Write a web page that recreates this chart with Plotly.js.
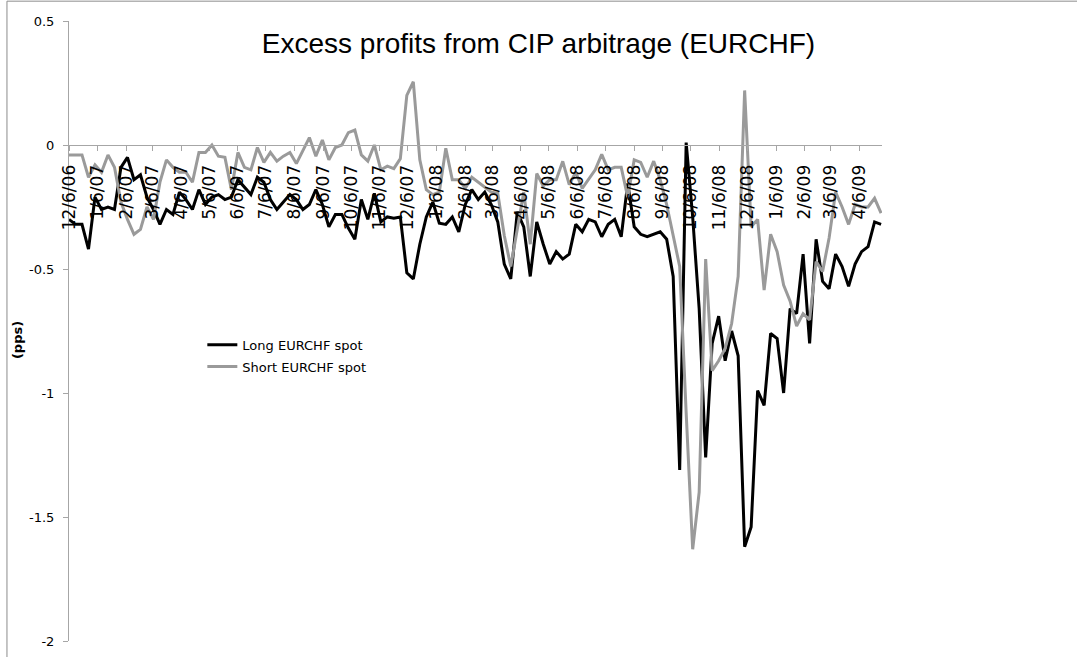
<!DOCTYPE html>
<html>
<head>
<meta charset="utf-8">
<script src="https://cdn.plot.ly/plotly-3.0.1.min.js"></script>
<style>html,body{margin:0;padding:0;background:#fff;}#chart{width:1077px;height:657px;}</style>
</head>
<body>
<div id="chart"></div>
<script>
// Weekly observations starting 6 Dec 2006
var startDate = '2006-12-06';
var nWeeks = 126;

var longSpot = [
 -0.30,-0.32,-0.32,-0.42,-0.21,-0.26,-0.25,-0.26,-0.09,-0.05,
 -0.14,-0.12,-0.21,-0.26,-0.32,-0.26,-0.28,-0.19,-0.22,-0.26,
 -0.18,-0.24,-0.21,-0.20,-0.22,-0.21,-0.14,-0.17,-0.20,-0.13,
 -0.15,-0.22,-0.26,-0.23,-0.20,-0.22,-0.26,-0.24,-0.18,-0.24,
 -0.33,-0.28,-0.28,-0.335,-0.38,-0.22,-0.30,-0.195,-0.31,-0.29,
 -0.295,-0.29,-0.515,-0.54,-0.40,-0.29,-0.23,-0.315,-0.32,-0.29,
 -0.35,-0.24,-0.18,-0.22,-0.19,-0.24,-0.31,-0.48,-0.54,-0.27,
 -0.33,-0.53,-0.31,-0.40,-0.48,-0.43,-0.46,-0.44,-0.32,-0.35,
 -0.30,-0.31,-0.37,-0.32,-0.30,-0.37,-0.155,-0.33,-0.36,-0.37,
 -0.36,-0.35,-0.38,-0.53,-1.31,0.01,-0.29,-0.66,-1.26,-0.80,
 -0.69,-0.87,-0.75,-0.85,-1.62,-1.54,-0.99,-1.05,-0.76,-0.78,
 -1.00,-0.66,-0.68,-0.44,-0.80,-0.38,-0.55,-0.58,-0.44,-0.49,
 -0.57,-0.48,-0.43,-0.41,-0.31,-0.32
];

var shortSpot = [
 -0.04,-0.04,-0.04,-0.13,-0.08,-0.11,-0.04,-0.09,-0.23,-0.30,
 -0.36,-0.34,-0.25,-0.30,-0.15,-0.06,-0.09,-0.11,-0.11,-0.15,
 -0.03,-0.03,0.00,-0.045,-0.05,-0.18,-0.03,-0.09,-0.10,-0.01,
 -0.07,-0.03,-0.065,-0.045,-0.03,-0.075,-0.02,0.03,-0.045,0.02,
 -0.06,-0.01,0.00,0.05,0.06,-0.04,-0.065,0.00,-0.10,-0.085,
 -0.095,-0.055,0.20,0.255,-0.06,-0.18,-0.20,-0.19,-0.013,-0.14,
 -0.14,-0.175,-0.13,-0.15,-0.17,-0.19,-0.195,-0.365,-0.49,-0.34,
 -0.19,-0.40,-0.115,-0.165,-0.14,-0.14,-0.066,-0.16,-0.11,-0.175,
 -0.135,-0.10,-0.038,-0.10,-0.09,-0.09,-0.21,-0.06,-0.07,-0.13,
 -0.065,-0.14,-0.24,-0.37,-0.49,-1.08,-1.63,-1.40,-0.46,-0.91,
 -0.87,-0.82,-0.72,-0.53,0.22,-0.33,-0.30,-0.585,-0.36,-0.43,
 -0.565,-0.63,-0.73,-0.68,-0.705,-0.47,-0.51,-0.375,-0.19,-0.25,
 -0.32,-0.24,-0.25,-0.25,-0.215,-0.275
];

var xTickVals = ['2006-12-06','2007-01-06','2007-02-06','2007-03-06','2007-04-06','2007-05-06','2007-06-06','2007-07-06','2007-08-06','2007-09-06','2007-10-06','2007-11-06','2007-12-06','2008-01-06','2008-02-06','2008-03-06','2008-04-06','2008-05-06','2008-06-06','2008-07-06','2008-08-06','2008-09-06','2008-10-06','2008-11-06','2008-12-06','2009-01-06','2009-02-06','2009-03-06','2009-04-06'];
var xTickText = ['12/6/06','1/6/07','2/6/07','3/6/07','4/6/07','5/6/07','6/6/07','7/6/07','8/6/07','9/6/07','10/6/07','11/6/07','12/6/07','1/6/08','2/6/08','3/6/08','4/6/08','5/6/08','6/6/08','7/6/08','8/6/08','9/6/08','10/6/08','11/6/08','12/6/08','1/6/09','2/6/09','3/6/09','4/6/09'];
var yTickVals = [0.5,0,-0.5,-1,-1.5,-2];
var yTickText = ['0.5','0','-0.5','-1','-1.5','-2'];

// build weekly date categories
var dates = [];
var d0 = new Date(startDate + 'T00:00:00Z');
for (var i = 0; i < nWeeks; i++) {
  var d = new Date(d0.getTime() + i * 7 * 86400000);
  dates.push(d.toISOString().slice(0, 10));
}

var traces = [
  {x: dates, y: longSpot, type: 'scatter', mode: 'lines', name: 'Long EURCHF spot',
   line: {color: '#000000', width: 3}, legendgroup: 'a'},
  {x: dates, y: shortSpot, type: 'scatter', mode: 'lines', name: 'Short EURCHF spot',
   line: {color: '#9a9a9a', width: 3}, legendgroup: 'b'}
];

var layout = {
  width: 1077, height: 657,
  paper_bgcolor: '#ffffff', plot_bgcolor: '#ffffff',
  margin: {l: 69, r: 195, t: 21, b: 16, pad: 0},
  font: {family: 'DejaVu Sans, sans-serif', color: '#000000', size: 13},
  title: {text: 'Excess profits from CIP arbitrage (EURCHF)',
          font: {family: 'Liberation Sans, Arial, sans-serif', size: 28, color: '#000000'},
          x: 0.5, xref: 'container', xanchor: 'center', y: 0.934, yref: 'container', yanchor: 'middle'},
  xaxis: {
    type: 'date', range: ['2006-12-06', '2009-04-30'],
    anchor: 'free', position: 0.8,
    showline: true, linecolor: '#a6a6a6', linewidth: 1,
    showgrid: false, zeroline: false,
    ticks: 'outside', ticklen: 5, tickcolor: '#a6a6a6', tickwidth: 1,
    tickmode: 'array', tickvals: xTickVals, ticktext: xTickText,
    tickangle: -90, tickfont: {size: 17, color: '#000000'}, ticklabelstandoff: 7
  },
  yaxis: {
    range: [-2, 0.5], showline: true, linecolor: '#a6a6a6', linewidth: 1,
    showgrid: false, zeroline: false,
    ticks: 'outside', ticklen: 5, tickcolor: '#a6a6a6', tickwidth: 1,
    tickmode: 'array', tickvals: yTickVals, ticktext: yTickText,
    tickfont: {size: 13, color: '#000000'}, ticklabelstandoff: 6
  },
  annotations: [
    {text: '<b>(pps)</b>', xref: 'paper', yref: 'paper', x: -0.063, y: 0.485,
     xanchor: 'center', yanchor: 'middle', textangle: -90, showarrow: false,
     font: {size: 13, color: '#000000'}}
  ],
  legend: {x: 0.164, y: 0.502, xanchor: 'left', yanchor: 'top', bgcolor: 'rgba(0,0,0,0)',
           font: {size: 13, color: '#000000'}, traceorder: 'grouped', tracegroupgap: 2},
  showlegend: true,
  shapes: [
    {type: 'rect', xref: 'paper', yref: 'paper', x0: -0.0763, x1: 1.6, y0: -0.2, y1: 1.032,
     line: {color: '#8c8c8c', width: 1}, fillcolor: 'rgba(0,0,0,0)', layer: 'below'}
  ]
};

Plotly.newPlot('chart', traces, layout, {displayModeBar: false, staticPlot: true});
</script>
</body>
</html>
